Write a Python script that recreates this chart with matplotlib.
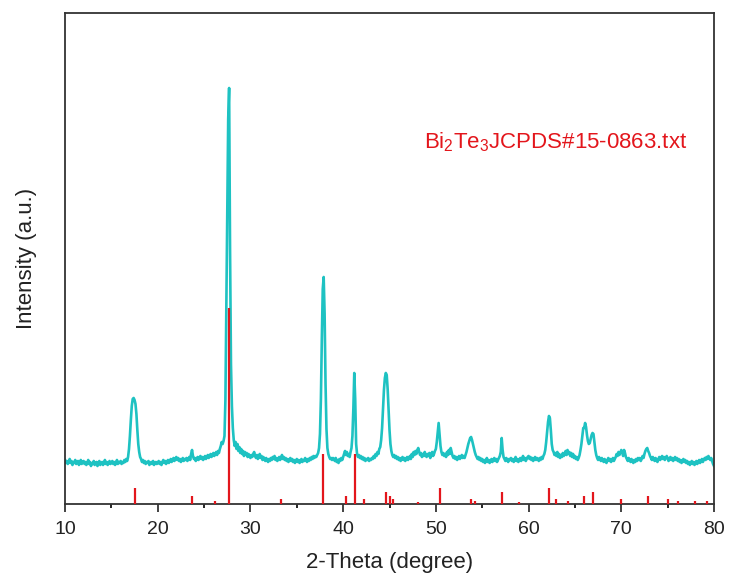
import numpy as np
import matplotlib
matplotlib.use("Agg")
import matplotlib.pyplot as plt

plt.rcParams["font.family"] = ["Liberation Sans", "DejaVu Sans"]
plt.rcParams["mathtext.fontset"] = "custom"
plt.rcParams["mathtext.rm"] = "Liberation Sans"
plt.rcParams["mathtext.it"] = "Liberation Sans"

# measured pattern, 2-theta from 10 to 80 in 0.1 degree steps (one row per degree)
two_theta = np.round(np.arange(10.0, 80.05, 0.1), 2)
intensity = [
    44, 41, 43, 40, 42, 45, 41, 43, 39, 42,       # 10
    41, 44, 40, 42, 43, 39, 41, 44, 40, 42,       # 11
    43, 40, 42, 39, 41, 44, 40, 42, 38, 41,       # 12
    40, 43, 39, 41, 42, 38, 41, 43, 39, 41,       # 13
    42, 39, 41, 44, 40, 42, 39, 41, 43, 40,       # 14
    41, 43, 40, 42, 39, 41, 44, 40, 42, 41,       # 15
    43, 40, 42, 41, 44, 42, 45, 43, 47, 55,       # 16
    68, 84, 98, 105, 106, 104, 100, 90, 74, 60,   # 17
    52, 47, 45, 42, 44, 41, 43, 40, 42, 41,       # 18
    43, 39, 41, 42, 40, 43, 39, 41, 42, 40,       # 19
    41, 43, 40, 42, 39, 42, 44, 41, 43, 40,       # 20
    42, 44, 41, 43, 45, 42, 44, 46, 43, 45,       # 21
    47, 44, 46, 43, 45, 42, 44, 46, 43, 45,       # 22
    44, 46, 43, 45, 47, 44, 50, 54, 48, 45,       # 23
    46, 43, 45, 47, 44, 46, 48, 45, 47, 44,       # 24
    46, 48, 45, 47, 49, 46, 48, 50, 47, 49,       # 25
    51, 48, 50, 52, 49, 53, 51, 55, 58, 62,       # 26
    60, 63, 68, 104, 200, 305, 385, 416, 255, 140,  # 27
    98, 76, 64, 58, 62, 55, 60, 53, 57, 51,       # 28
    55, 50, 53, 48, 52, 49, 51, 47, 50, 48,       # 29
    46, 49, 47, 50, 52, 48, 46, 49, 45, 47,       # 30
    50, 46, 48, 44, 47, 45, 43, 46, 44, 42,       # 31
    45, 43, 46, 44, 47, 45, 48, 44, 46, 43,       # 32
    45, 47, 44, 46, 49, 45, 47, 44, 46, 43,       # 33
    45, 42, 44, 46, 43, 45, 42, 44, 41, 43,       # 34
    45, 42, 44, 41, 43, 45, 42, 44, 43, 46,       # 35
    44, 42, 45, 43, 46, 44, 47, 45, 48, 46,       # 36
    48, 47, 49, 51, 56, 70, 105, 165, 215, 227,   # 37
    190, 120, 75, 56, 50, 47, 45, 46, 44, 46,     # 38
    45, 43, 46, 42, 44, 41, 45, 43, 46, 44,       # 39
    47, 50, 53, 49, 52, 48, 50, 47, 52, 56,       # 40
    68, 95, 131, 105, 60, 50, 47, 49, 46, 48,     # 41
    45, 47, 44, 46, 43, 45, 44, 46, 43, 45,       # 42
    44, 46, 45, 48, 46, 50, 48, 52, 50, 55,       # 43
    57, 64, 76, 94, 114, 126, 131, 129, 115, 94,  # 44
    74, 60, 53, 49, 47, 49, 46, 48, 45, 47,       # 45
    44, 46, 43, 45, 47, 44, 46, 43, 45, 47,       # 46
    44, 46, 48, 45, 50, 47, 52, 49, 53, 50,       # 47
    54, 56, 52, 49, 51, 47, 50, 48, 52, 49,       # 48
    47, 50, 48, 51, 46, 49, 52, 48, 50, 53,       # 49
    55, 62, 72, 81, 70, 58, 52, 49, 51, 48,       # 50
    50, 47, 52, 49, 54, 50, 56, 52, 48, 46,       # 51
    48, 45, 47, 44, 46, 48, 45, 47, 49, 46,       # 52
    48, 46, 49, 52, 56, 60, 63, 66, 67, 64,       # 53
    60, 56, 52, 49, 47, 45, 47, 44, 46, 43,       # 54
    45, 42, 44, 41, 43, 46, 42, 44, 41, 43,       # 55
    45, 42, 44, 46, 43, 45, 42, 44, 46, 48,       # 56
    52, 66, 54, 47, 45, 43, 46, 44, 42, 45,       # 57
    44, 46, 43, 45, 42, 44, 47, 43, 45, 42,       # 58
    44, 46, 43, 45, 48, 44, 46, 43, 45, 47,       # 59
    48, 45, 47, 44, 46, 43, 45, 47, 44, 46,       # 60
    45, 43, 46, 44, 47, 45, 48, 50, 54, 62,       # 61
    72, 82, 88, 86, 74, 60, 54, 52, 49, 51,       # 62
    48, 52, 47, 50, 46, 49, 47, 51, 48, 50,       # 63
    53, 49, 54, 50, 52, 48, 51, 47, 50, 46,       # 64
    48, 45, 47, 44, 46, 49, 54, 60, 68, 76,       # 65
    76, 81, 77, 69, 63, 60, 61, 65, 69, 71,       # 66
    70, 62, 54, 49, 46, 44, 47, 45, 43, 46,       # 67
    44, 42, 45, 43, 41, 44, 46, 43, 45, 42,       # 68
    44, 46, 43, 45, 47, 50, 48, 52, 49, 51,       # 69
    54, 52, 48, 54, 51, 47, 45, 43, 46, 44,       # 70
    42, 45, 43, 41, 44, 42, 45, 43, 46, 44,       # 71
    46, 43, 45, 48, 46, 50, 53, 55, 56, 53,       # 72
    51, 48, 46, 44, 47, 45, 43, 46, 44, 42,       # 73
    45, 47, 44, 46, 48, 45, 47, 44, 46, 48,       # 74
    46, 43, 45, 47, 44, 46, 43, 45, 47, 44,       # 75
    46, 43, 45, 42, 44, 41, 43, 45, 42, 44,       # 76
    41, 43, 40, 42, 39, 41, 43, 40, 42, 39,       # 77
    41, 43, 40, 42, 44, 41, 43, 45, 42, 44,       # 78
    46, 44, 47, 45, 48, 46, 44, 46, 43, 40,       # 79
    38,                                           # 80
]

# JCPDS 15-0863 reference lines
ref_pos = [17.5, 23.7, 26.2, 27.65, 33.3, 37.85, 40.3, 41.25, 42.2, 44.6,
           45.0, 45.4, 48.1, 50.4, 53.8, 54.2, 57.1, 59.0, 62.25, 62.95,
           64.2, 66.0, 67.0, 70.0, 72.9, 75.0, 76.1, 78.0, 79.2]
ref_int = [16, 8, 3, 196, 5, 50, 8, 50, 5, 12,
           8, 5, 2, 16, 5, 3, 12, 2, 16, 5,
           3, 8, 12, 5, 8, 5, 3, 3, 3]

fig = plt.figure(figsize=(7.29, 5.75), dpi=100)
ax = fig.add_axes([0.0892, 0.1235, 0.8902, 0.8539])

ax.plot(two_theta, intensity, color="#1ec2c2", lw=1.9, zorder=2)
ax.vlines(ref_pos, 0, ref_int, color="#e3161c", lw=1.6, zorder=3)

ax.text(48.77, 362, r"Bi$_2$Te$_3$JCPDS#15-0863.txt", color="#e3161c",
        fontsize=16, ha="left", va="center")

ax.set_xlim(10, 80)
ax.set_ylim(0, 491)
ax.set_xticks(range(10, 81, 10))
ax.set_xticks(range(15, 80, 10), minor=True)
ax.set_yticks([])
ax.tick_params(axis="x", which="major", direction="out", length=6, width=1.2,
               labelsize=14, pad=6, colors="#222222")
ax.tick_params(axis="x", which="minor", direction="out", length=3, width=1.2)
for sp in ax.spines.values():
    sp.set_linewidth(1.3)
    sp.set_color("#333333")

ax.set_xlabel("2-Theta (degree)", fontsize=16, labelpad=10, color="#222222")
ax.set_ylabel("Intensity (a.u.)", fontsize=16, labelpad=20, color="#222222")

fig.savefig("out.png", dpi=100)
